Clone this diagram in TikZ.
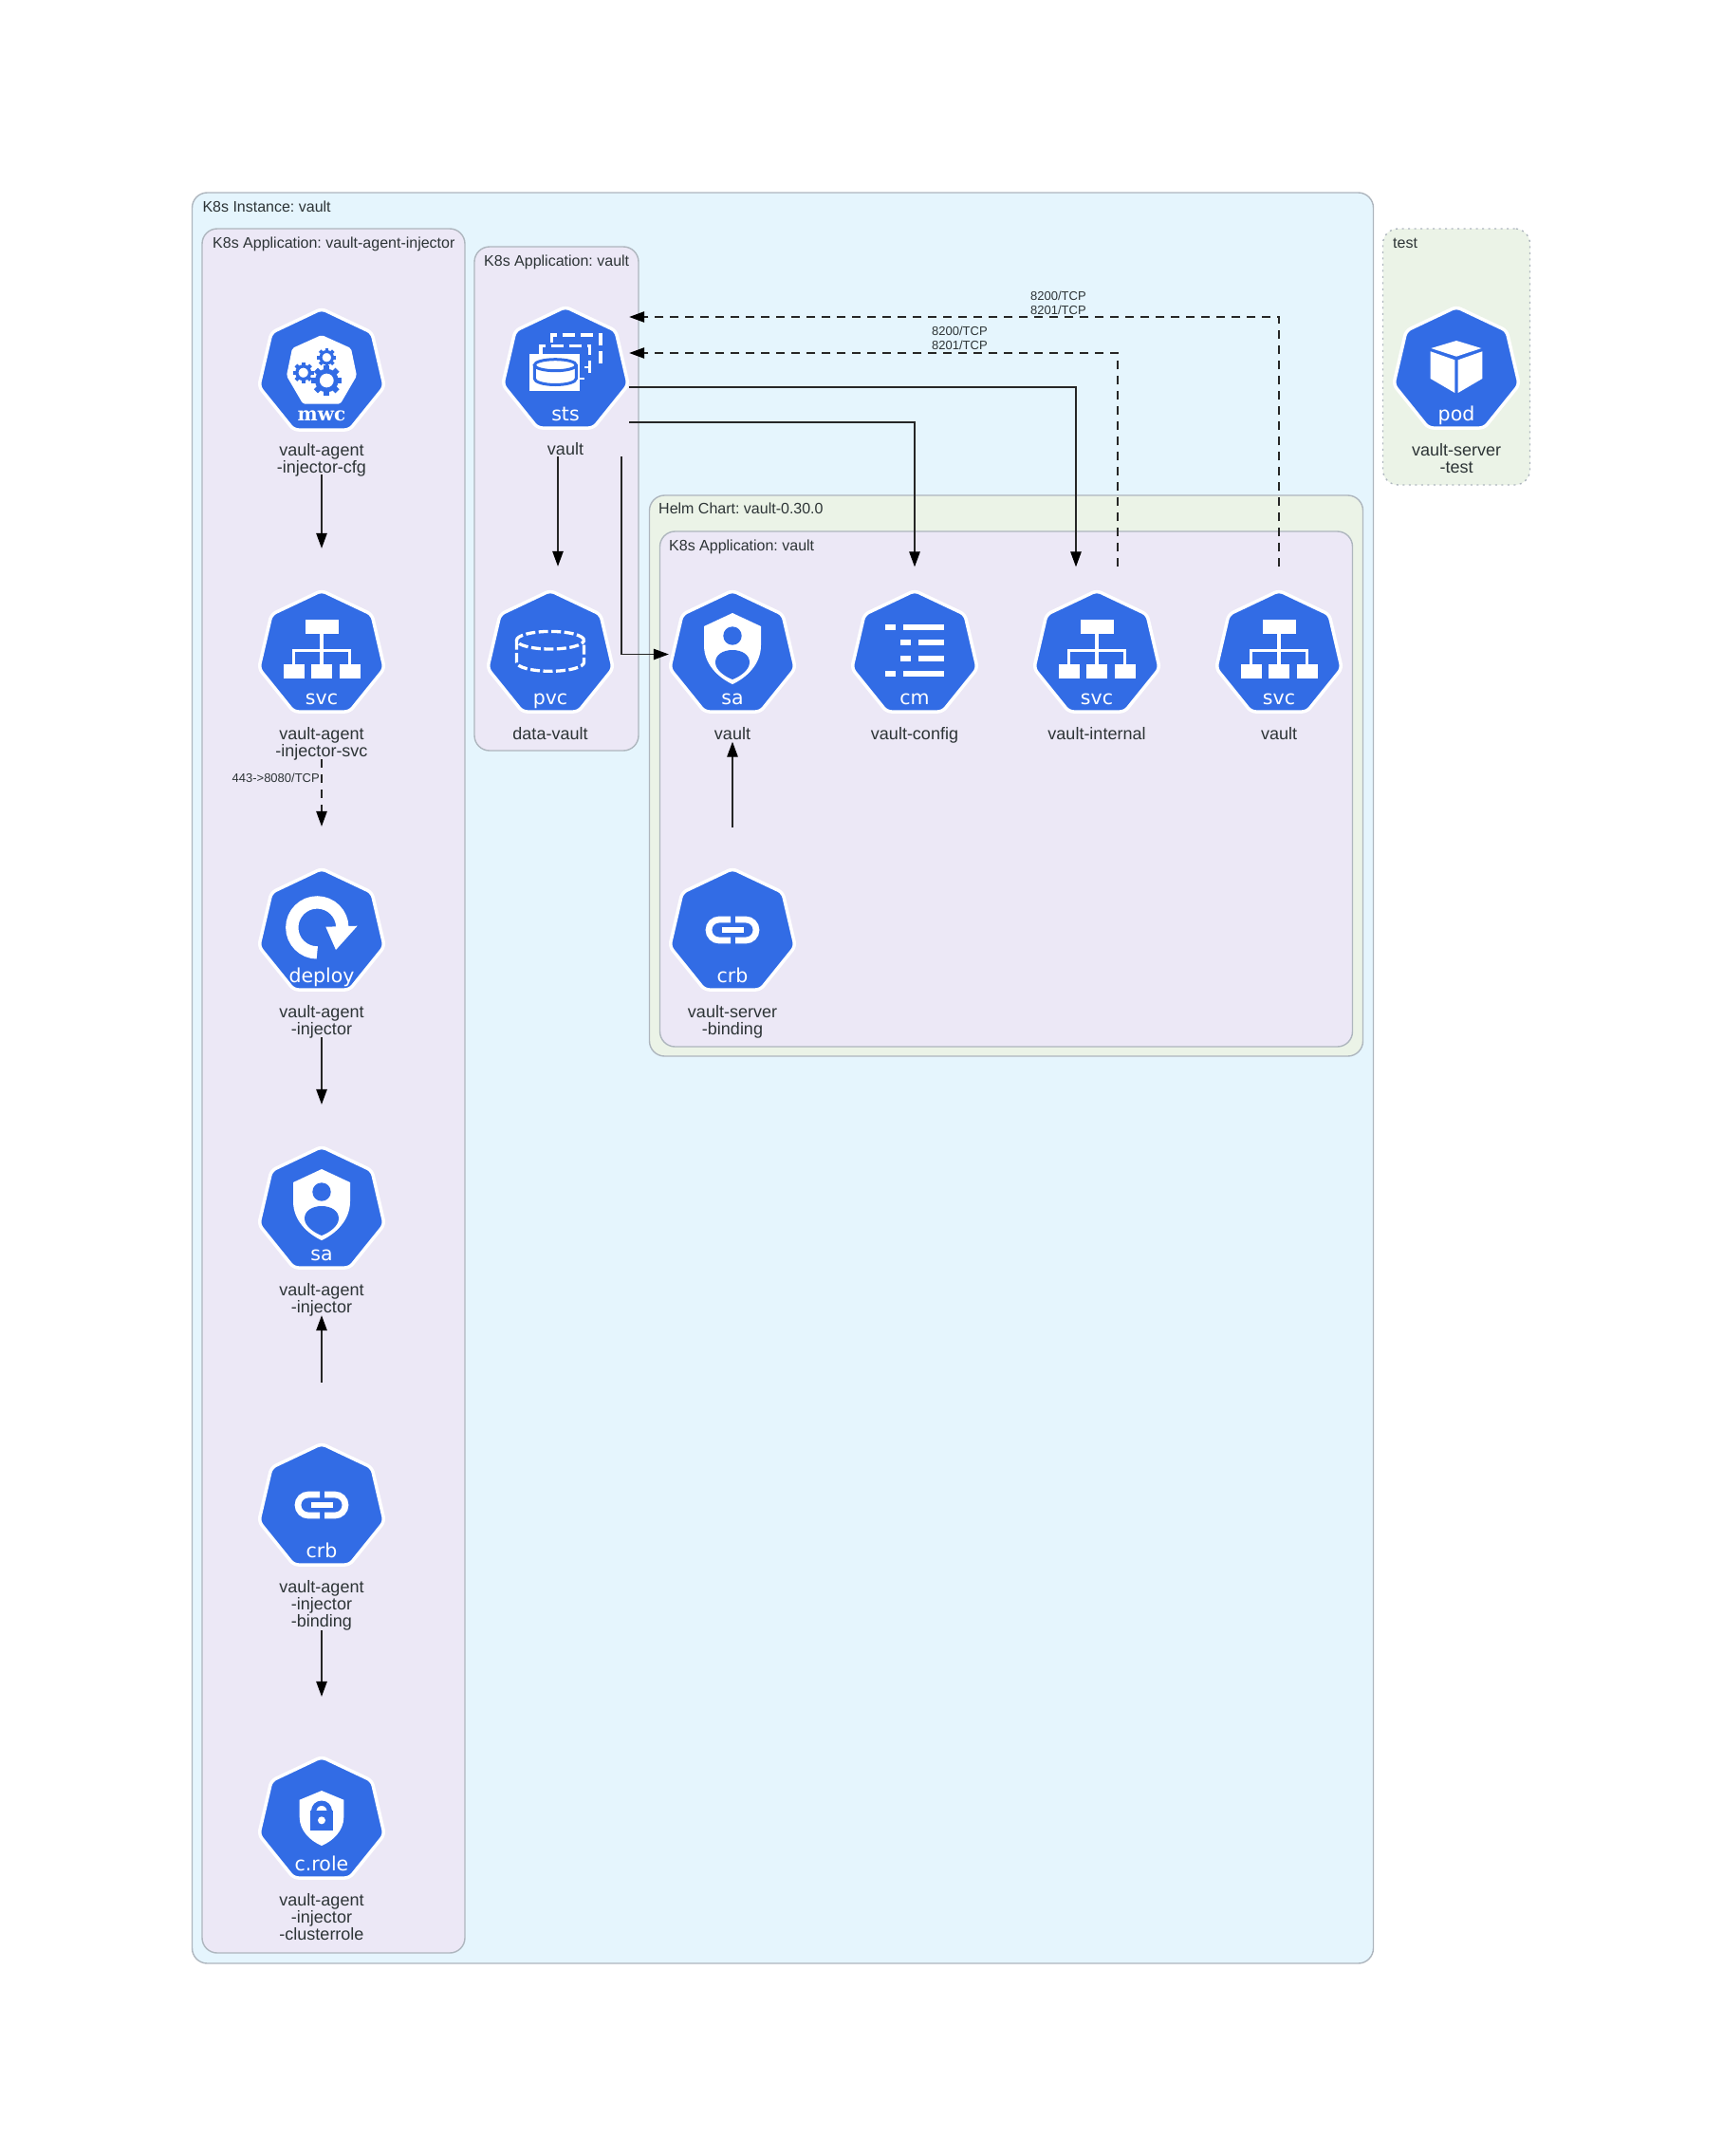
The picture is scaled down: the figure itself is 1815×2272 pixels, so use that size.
\documentclass[tikz,border=0pt]{standalone}
\usepackage{fontspec}
\setmainfont{Liberation Sans}
\newfontfamily\dvs{DejaVu Sans}
\newfontfamily\dvserif{DejaVu Serif}
\usetikzlibrary{arrows.meta,calc}
\frenchspacing
\definecolor{k8s}{HTML}{326CE5}
\definecolor{inst}{HTML}{E5F5FD}
\definecolor{appc}{HTML}{ECE8F6}
\definecolor{helmc}{HTML}{EBF3E7}
\definecolor{bord}{HTML}{AEB6BE}
\definecolor{txt}{HTML}{2D3436}
\tikzset{
  cluster/.style={rectangle,rounded corners=16pt,draw=bord,line width=1.4pt,inner sep=0pt},
  clabel/.style={anchor=base west,inner sep=0pt,text=txt,font=\fontsize{16}{18}\selectfont},
  elabel/.style={inner sep=0pt,text=txt,align=left,font=\fontsize{13}{15.5}\selectfont},
  hept/.style={fill=k8s,draw=white,line width=3.5pt,rounded corners=5pt,line join=round},
  icontext/.style={anchor=base,inner sep=0pt,text=white,font=\dvs\fontsize{20.5}{22}\selectfont},
  nlabel/.style={anchor=north,inner sep=0pt,text=txt,align=center,font=\fontsize{18}{18}\selectfont},
  portbox/.style={rectangle,inner sep=0pt,minimum width=134pt},
  conn/.style={draw=black!85,line width=1.15pt,-{Triangle[length=16pt,width=11.5pt,color=black,fill=black]}},
  dconn/.style={conn,dash pattern=on 9pt off 7pt},
}
\newcommand{\kicon}[7][144.5]{%
  \begin{scope}[shift={(#3,#4)}]
    \draw[hept] (0,0.4) -- (53,25.5) -- (66.2,82.3) -- (29.4,128) -- (-29.4,128) -- (-66.2,82.3) -- (-53,25.5) -- cycle;
    #6
    \node[icontext] (#2-i) at (0,120) {#5};
    \node[nlabel] (#2-l) at (0,#1) {#7};
  \end{scope}}
\newcommand{\gSa}{%
  \fill[white] (0,24) -- (30,38) -- (30,58) .. controls (30,78) and (15,92) .. (0,99) .. controls (-15,92) and (-30,78) .. (-30,58) -- (-30,38) -- cycle;
  \fill[k8s] (0,48) circle (9.7pt);
  \fill[k8s] (0,94) .. controls (-8,91) and (-18,84) .. (-18,76) .. controls (-18,68) and (-10,63) .. (0,63) .. controls (10,63) and (18,68) .. (18,76) .. controls (18,84) and (8,91) .. (0,94) -- cycle;}
\newcommand{\gSvc}{%
  \fill[white] (-17.3,31) rectangle (17.7,46.3);
  \fill[white] (-40,77.7) rectangle (-18.3,92.7);
  \fill[white] (-10.7,77.7) rectangle (11,92.7);
  \fill[white] (19,77.7) rectangle (40.7,92.7);
  \draw[white,line width=3.3pt] (0,46) -- (0,78);
  \draw[white,line width=3.3pt] (-29.5,78) -- (-29.5,63.3) -- (29.5,63.3) -- (29.5,78);}
\newcommand{\gDeploy}{%
  \draw[white,line width=13.3pt] (-4.7,88.9) arc[start angle=270,end angle=0,radius=26.5pt];
  \fill[white] (4.3,61.7) -- (37.7,60.7) -- (15,86) -- cycle;}
\newcommand{\gCrb}{%
  \draw[white,line width=6.7pt] (-2,54) -- (-14,54) arc[start angle=90,end angle=270,radius=11pt] -- (-2,76);
  \draw[white,line width=6.7pt] (3,54) -- (14,54) arc[start angle=90,end angle=-90,radius=11pt] -- (3,76);
  \fill[white] (-11,61.7) rectangle (11.7,68.3);}
\newcommand{\gCm}{%
  \fill[white] (-30.7,36) rectangle (-19.7,42);
  \fill[white] (-12,36) rectangle (31.3,42);
  \fill[white] (-15,52.3) rectangle (-4.3,58.3);
  \fill[white] (3.7,52.3) rectangle (31.3,58.3);
  \fill[white] (-15,68.7) rectangle (-4.3,74.7);
  \fill[white] (3.7,68.7) rectangle (31.3,74.7);
  \fill[white] (-30.7,85) rectangle (-19.7,91);
  \fill[white] (-12,85) rectangle (31.3,91);}
\newcommand{\gPvc}{%
  \begin{scope}[white,line width=3.3pt,dash pattern=on 10pt off 3.5pt]
    \draw (0,52.7) ellipse[x radius=35.5pt,y radius=9.3pt];
    \draw (-35.5,52.7) -- (-35.5,76) arc[start angle=180,end angle=360,x radius=35.5pt,y radius=9.3pt] -- (35.5,52.7);
  \end{scope}}
\newcommand{\gSts}{%
  \begin{scope}[white,line width=3.3pt,dash pattern=on 13pt off 6pt]
    \draw (-14.3,38) -- (-14.3,30) -- (37,30) -- (37,64);
    \draw (-26,50) -- (-26,41.5) -- (25.7,41.5) -- (25.7,73);
  \end{scope}
  \draw[white,line width=2.5pt] (25.7,64) -- (20,64) (15,76) -- (20,76);
  \fill[white] (-37.7,50) rectangle (15,89);
  \draw[k8s,line width=3pt] (-32.7,61.7) -- (-32.7,76) arc[start angle=180,end angle=360,x radius=22pt,y radius=6.5pt] -- (11.3,61.7);
  \draw[k8s,line width=3pt] (-10.7,61.7) ellipse[x radius=22pt,y radius=6pt];}
\newcommand{\gPod}{%
  \fill[white] (0,36) -- (26.3,44) -- (0,52.7) -- (-26.7,44) -- cycle;
  \fill[white] (-27.3,47.3) -- (-1.7,56.3) -- (-1.7,91) -- (-27.3,76) -- cycle;
  \fill[white] (1.7,56.3) -- (27.3,47.3) -- (27.3,76) -- (1.7,91) -- cycle;}
\newcommand{\gRole}{%
  \fill[white] (0,36) -- (23.3,45.7) -- (23.3,64) .. controls (23.3,78) and (12,89) .. (0,94) .. controls (-12,89) and (-23.3,78) .. (-23.3,64) -- (-23.3,45.7) -- cycle;
  \fill[k8s] (-12.3,56.7) rectangle (12.3,78.3);
  \draw[k8s,line width=5.3pt] (-8.3,57.5) arc[start angle=180,end angle=0,radius=8.3pt];
  \fill[white] (0,67.3) circle (4pt);}
\newcommand{\gearat}[3]{%
  \begin{scope}[shift={(#1,#2)}]
    \foreach \a in {0,45,...,315} {\draw[k8s,line width=#3*0.36pt] (\a:{0.6*#3}) -- (\a:{#3});}
    \draw[k8s,line width=#3*0.3pt] (0,0) circle ({0.62*#3 pt});
  \end{scope}}
\newcommand{\gMwc}{%
  \fill[white,rounded corners=2pt] (0,28) -- (31,42) -- (37,71) -- (19.7,100.7) -- (-19.7,100.7) -- (-37,71) -- (-31,42) -- cycle;
  \gearat{5.3}{51.7}{10}
  \gearat{-19.3}{67.7}{11}
  \gearat{5.3}{76}{16}}
\begin{document}
\begin{tikzpicture}[x=1pt,y=-1pt]
\useasboundingbox (0,0) rectangle (1815,2272);
% clusters
\node[cluster,fill=inst,minimum width=1245pt,minimum height=1866pt] (inst) at (825,1136) {};
\node[cluster,fill=appc,minimum width=277pt,minimum height=1817pt] (appinj) at (351.5,1149.5) {};
\node[cluster,fill=appc,minimum width=173pt,minimum height=531pt] (appv) at (586.5,525.5) {};
\node[cluster,fill=helmc,minimum width=752pt,minimum height=591pt] (helm) at (1060.5,817.5) {};
\node[cluster,fill=appc,minimum width=730pt,minimum height=543pt] (appin) at (1060.5,831.5) {};
\node[cluster,fill=helmc,dash pattern=on 2pt off 4.5pt,minimum width=155pt,minimum height=270pt] (testc) at (1535,376) {};
\node[clabel] (l1) at (213.3,223) {K8s Instance: vault};
\node[clabel] (l2) at (224,261) {K8s Application: vault-agent-injector};
\node[clabel] (l3) at (510,280) {K8s Application: vault};
\node[clabel] (l4) at (694,541) {Helm Chart: vault-0.30.0};
\node[clabel] (l5) at (705,580) {K8s Application: vault};
\node[clabel] (l6) at (1468,261) {test};
% invisible node extents used by connectors
\node[portbox,minimum height=222pt] (mwc) at (339,389) {};
\node[portbox,minimum height=222pt] (svca) at (339,689) {};
\node[portbox,minimum height=222pt] (depl) at (339,982) {};
\node[portbox,minimum height=222pt] (saa) at (339,1275) {};
\node[portbox,minimum height=261pt] (crba) at (339,1587.5) {};
\node[portbox,minimum height=261pt] (role) at (339,1918.5) {};
\node[portbox,minimum height=184pt] (sts) at (596,389) {};
\node[portbox,minimum height=184pt] (pvc) at (580,689) {};
\node[portbox,minimum height=184pt] (sav) at (772,689.5) {};
\node[portbox,minimum height=184pt] (cm) at (964,689.5) {};
\node[portbox,minimum height=184pt] (svci) at (1156,689.5) {};
\node[portbox,minimum height=184pt] (svcv) at (1348,689.5) {};
\node[portbox,minimum height=222pt] (crbv) at (772,983) {};
% icons
\kicon[142]{mwcn}{339}{325}{\dvserif\bfseries\fontsize{20}{22}\selectfont\raisebox{2pt}{mwc}}{\gMwc}{vault-agent\\-injector-cfg}
\kicon{svcan}{339}{622}{svc}{\gSvc}{vault-agent\\-injector-svc}
\kicon{depln}{339}{915}{deploy}{\gDeploy}{vault-agent\\-injector}
\kicon{saan}{339}{1208}{sa}{\gSa}{vault-agent\\-injector}
\kicon{crban}{339}{1521}{crb}{\gCrb}{vault-agent\\-injector\\-binding}
\kicon{rolen}{339}{1851}{c.role}{\gRole}{vault-agent\\-injector\\-clusterrole}
\kicon[143.5]{stsn}{596}{323}{sts}{\gSts}{vault}
\kicon{pvcn}{580}{622}{pvc}{\gPvc}{data-vault}
\kicon{savn}{772}{622}{sa}{\gSa}{vault}
\kicon{cmn}{964}{622}{cm}{\gCm}{vault-config}
\kicon{svcin}{1156}{622}{svc}{\gSvc}{vault-internal}
\kicon{svcvn}{1348}{622}{svc}{\gSvc}{vault}
\kicon{crbvn}{772}{915}{crb}{\gCrb}{vault-server\\-binding}
\kicon[144]{podn}{1535}{323}{pod}{\gPod}{vault-server\\-test}
% connectors
\draw[conn] (mwc.south) -- (svca.north);
\draw[dconn] (svca.south) -- (depl.north);
\draw[conn] (depl.south) -- (saa.north);
\draw[conn] (crba.north) -- (saa.south);
\draw[conn] (crba.south) -- (role.north);
\draw[conn] ([xshift=-8pt]sts.south) -- ([xshift=8pt]pvc.north);
\draw[conn] ([xshift=59pt]sts.south) |- (sav.west);
\draw[conn] ([yshift=-56pt]sts.east) -| (cm.north);
\draw[conn] ([yshift=-19pt]sts.east) -| ([xshift=-22pt]svci.north);
\draw[dconn] ([xshift=22pt]svci.north) |- ([yshift=17pt]sts.east);
\draw[dconn] (svcv.north) |- ([yshift=55pt]sts.east);
\draw[conn] (crbv.north) -- (sav.south);
% connector labels
\node[elabel,anchor=east] (e1) at (337,820) {443->8080/TCP};
\node[elabel,anchor=west] (e2) at (1086,319.5) {8200/TCP\\8201/TCP};
\node[elabel,anchor=west] (e3) at (982,356.5) {8200/TCP\\8201/TCP};
\end{tikzpicture}
\end{document}
